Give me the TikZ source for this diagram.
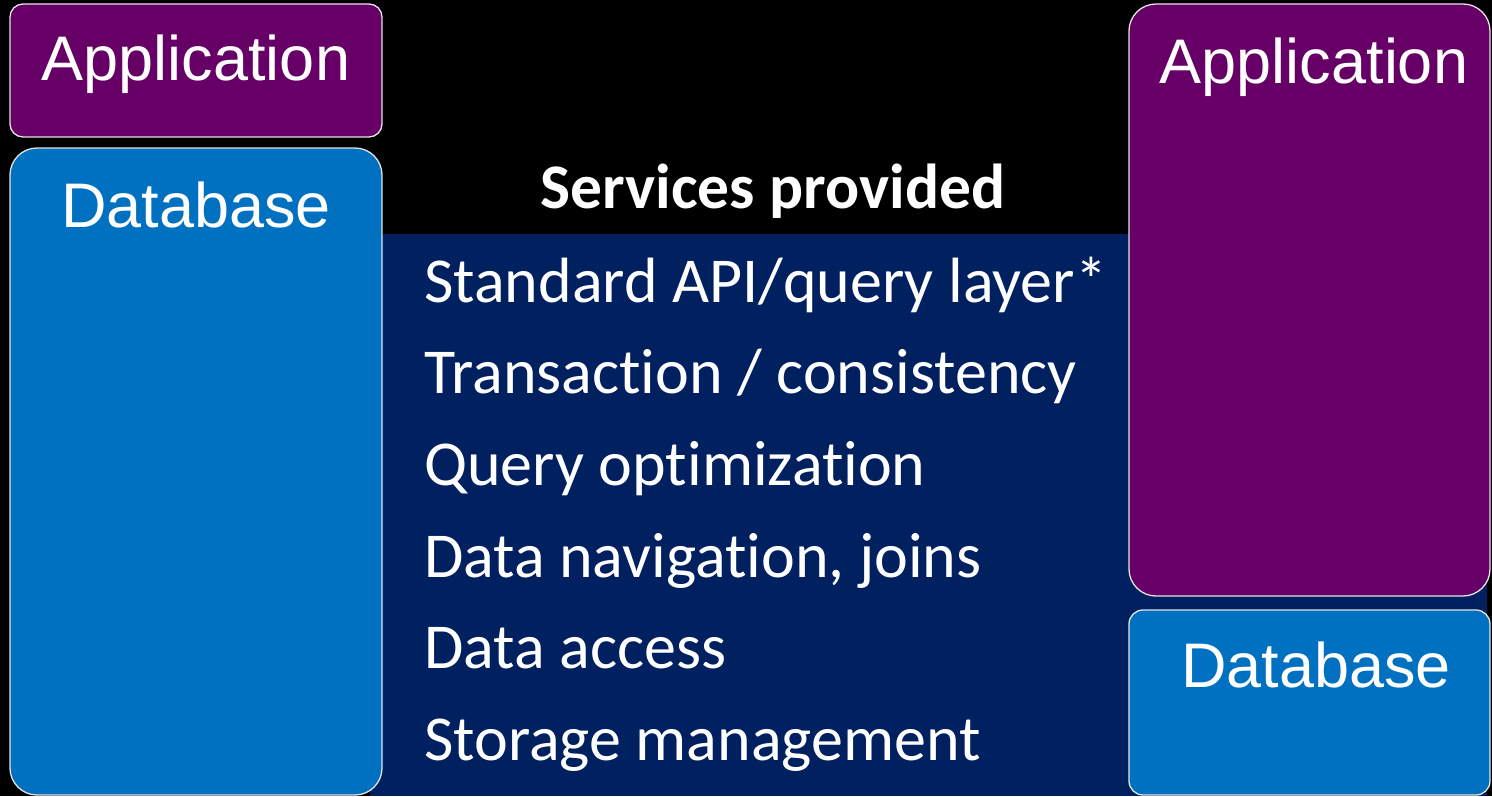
\documentclass[tikz,border=0pt]{standalone}
\usepackage{fontspec}
\setmainfont{Liberation Sans}
\newfontfamily\svcfont[Ligatures=NoCommon]{Carlito}
\definecolor{apppurple}{HTML}{660066}
\definecolor{dbblue}{HTML}{0070C0}
\definecolor{svcnavy}{HTML}{002060}
\definecolor{boxedge}{HTML}{E4E4E4}

\begin{document}
\begin{tikzpicture}[x=1pt,y=-1pt,
  layerbox/.style={draw=boxedge, line width=1.3pt, inner sep=0pt, outer sep=0pt, anchor=north west},
  appbox/.style={layerbox, fill=apppurple},
  dbbox/.style={layerbox, fill=dbblue},
  boxlabel/.style={text=white, anchor=base, inner sep=0pt, font=\fontsize{63}{70}\selectfont},
  svchead/.style={text=white, anchor=base, inner sep=0pt, font=\svcfont\bfseries\fontsize{63.5}{70}\selectfont},
  svcitem/.style={text=white, anchor=base west, inner sep=0pt, font=\svcfont\fontsize{64}{70}\selectfont}]

% page background
\fill[black] (0,0) rectangle (1492,796);
\useasboundingbox (0,0) rectangle (1492,796);

% band listing the services
\fill[svcnavy] (370,234) rectangle (1487,796);

% left stack
\node[appbox, rounded corners=13pt, minimum width=372pt, minimum height=133pt] (appL) at (10,4) {};
\node[dbbox, rounded corners=27pt, minimum width=372pt, minimum height=647pt] (dbL) at (10,148) {};
\node[boxlabel] (appLtext) at (196,80) {Application};
\node[boxlabel] (dbLtext) at (196,227) {Database};

% right stack
\node[appbox, rounded corners=27pt, minimum width=361pt, minimum height=592pt] (appR) at (1129,4) {};
\node[dbbox, rounded corners=14pt, minimum width=361pt, minimum height=185pt] (dbR) at (1129,610) {};
\node[boxlabel] (appRtext) at (1314,83) {Application};
\node[boxlabel] (dbRtext) at (1316,687) {Database};

% services
\node[svchead] (head) at (773,208) {Services provided};
\node[svcitem] (s1) at (424,302) {Standard API/query layer*};
\node[svcitem] (s2) at (424,393) {Transaction / consistency};
\node[svcitem] (s3) at (424,485) {Query optimization};
\node[svcitem] (s4) at (424,577) {Data navigation, joins};
\node[svcitem] (s5) at (424,668) {Data access};
\node[svcitem] (s6) at (424,760) {Storage management};
\end{tikzpicture}
\end{document}
